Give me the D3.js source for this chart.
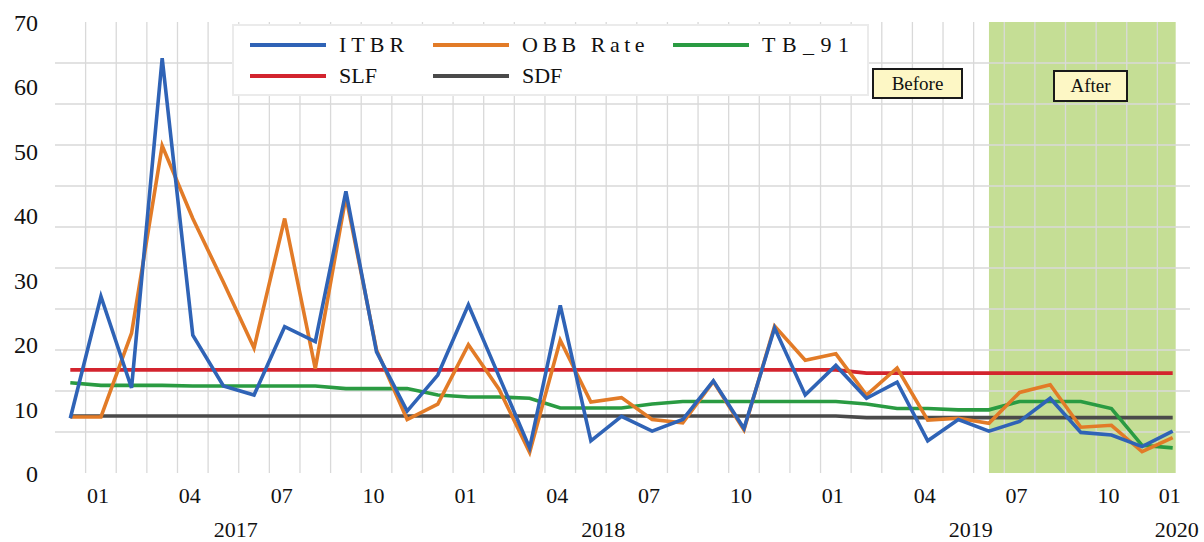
<!DOCTYPE html>
<html>
<head>
<meta charset="utf-8">
<script src="https://cdn.jsdelivr.net/npm/d3@7"></script>
<style>
html,body{margin:0;padding:0;background:#fff;}
svg{display:block;}
</style>
</head>
<body>
<svg id="chart" width="1204" height="542" font-family="'Liberation Serif', 'DejaVu Serif', serif"></svg>
<script>
const categories = ["2016-12","2017-01","2017-02","2017-03","2017-04","2017-05","2017-06","2017-07","2017-08","2017-09","2017-10","2017-11",
  "2017-12","2018-01","2018-02","2018-03","2018-04","2018-05","2018-06","2018-07","2018-08","2018-09","2018-10","2018-11",
  "2018-12","2019-01","2019-02","2019-03","2019-04","2019-05","2019-06","2019-07","2019-08","2019-09","2019-10","2019-11","2019-12"];

const itbr = [8.5,27.4,13.2,64.4,21.4,13.5,12.1,22.7,20.4,43.7,18.8,9.6,
  15.2,26.1,15.0,3.9,26.0,5.0,8.8,6.5,8.3,14.3,6.9,22.5,
  12.1,16.7,11.6,14.1,5.0,8.3,6.5,8.0,11.6,6.3,5.9,4.1,6.5];
const obbRate = [8.7,8.7,21.7,50.8,39.5,29.6,19.4,39.5,16.2,42.9,19.1,8.3,
  10.7,19.9,13.0,3.2,20.6,11.0,11.7,8.3,7.8,14.2,6.7,22.8,
  17.5,18.5,12.1,16.3,8.2,8.5,7.7,12.5,13.7,7.1,7.4,3.3,5.5];
const tb91 = [14.0,13.6,13.6,13.6,13.5,13.5,13.5,13.5,13.5,13.1,13.1,13.1,
  12.1,11.8,11.8,11.6,10.1,10.1,10.1,10.7,11.1,11.1,11.1,11.1,
  11.1,11.1,10.7,10.0,10.0,9.8,9.8,11.1,11.1,11.1,10.0,4.3,3.9];
const slf = [16.0,16.0,16.0,16.0,16.0,16.0,16.0,16.0,16.0,16.0,16.0,16.0,
  16.0,16.0,16.0,16.0,16.0,16.0,16.0,16.0,16.0,16.0,16.0,16.0,
  16.0,16.0,15.5,15.5,15.5,15.5,15.5,15.5,15.5,15.5,15.5,15.5,15.5];
const sdf = [8.85,8.85,8.85,8.85,8.85,8.85,8.85,8.85,8.85,8.85,8.85,8.85,
  8.85,8.85,8.85,8.85,8.85,8.85,8.85,8.85,8.85,8.85,8.85,8.85,
  8.85,8.85,8.6,8.6,8.6,8.6,8.6,8.6,8.6,8.6,8.6,8.6,8.6];

const yTickValues = [0,10,20,30,40,50,60,70];
const monthTickCats = ["2017-01","2017-04","2017-07","2017-10","2018-01","2018-04","2018-07","2018-10","2019-01","2019-04","2019-07","2019-10","2019-12"];
const monthTickLabels = ["01","04","07","10","01","04","07","10","01","04","07","10","01"];
const yearLabels = ["2017","2018","2019","2020"];
const yearFirstCat = ["2016-12","2017-12","2018-12","2019-12"];
const yearLastCat  = ["2017-11","2018-11","2019-11","2019-12"];
const afterStart = "2019-06";
const afterEnd = "2019-12";

const seriesNames = ["ITBR","OBB Rate","TB_91","SLF","SDF"];
const seriesData = [itbr, obbRate, tb91, slf, sdf];
const seriesColors = ["#2F63B6","#E27B27","#2A9B42","#D3242E","#4A4A4A"];

const svg = d3.select("#chart");
const pLeft = 55, pRight = 1188, pTop = 22, pBottom = 473;
const serif = "'Liberation Serif', 'DejaVu Serif', serif";

const xBand = d3.scaleBand().domain(categories).range([pLeft, pRight]).paddingInner(0).paddingOuter(0);
const xc = c => xBand(c) + xBand.bandwidth()/2;
const y = d3.scaleLinear().domain([0,70]).range([pBottom, pTop]);

// After shading
svg.append("rect")
  .attr("x", xc(afterStart)).attr("y", pTop)
  .attr("width", xc(afterEnd) + 3 - xc(afterStart)).attr("height", pBottom - pTop)
  .attr("fill", "#C5DE95");

// gridlines
const grid = svg.append("g");
const hGridVals = d3.range(1, 11).map(k => k * 70 / 11);
grid.selectAll("line.h").data(hGridVals).enter().append("line")
  .attr("x1", pLeft).attr("x2", pRight + 2)
  .attr("y1", d => y(d)).attr("y2", d => y(d))
  .attr("stroke", "#D9D9D9").attr("stroke-width", 1.3);
grid.selectAll("line.v").data(categories.slice(1)).enter().append("line")
  .attr("x1", d => xBand(d)).attr("x2", d => xBand(d))
  .attr("y1", pTop).attr("y2", pBottom)
  .attr("stroke", "#D9D9D9").attr("stroke-width", 1.3);

// legend box (under lines)
const lg = svg.append("g");
lg.append("rect").attr("x", 233).attr("y", 25).attr("width", 635).attr("height", 70)
  .attr("fill", "#fff").attr("stroke", "#EBEBEB").attr("stroke-width", 2);
const legendPos = [[250,45],[433,45],[673,45],[250,76],[433,76]];
const legendSpacing = [5,4.5,6.5,0,0];
seriesNames.forEach((n,i) => {
  const [lx, ly] = legendPos[i];
  lg.append("line").attr("x1", lx).attr("x2", lx+76).attr("y1", ly).attr("y2", ly)
    .attr("stroke", seriesColors[i]).attr("stroke-width", 4);
  lg.append("text").attr("x", lx+89).attr("y", ly+7).attr("font-size", 22)
    .attr("font-family", serif).attr("fill", "#111")
    .attr("letter-spacing", legendSpacing[i]).text(n);
});

// lines
const line = d3.line().x((d,i) => xc(categories[i])).y(d => y(d));
const drawOrder = [4,3,2,1,0];
drawOrder.forEach(i => {
  svg.append("path").datum(seriesData[i])
    .attr("d", line)
    .attr("fill", "none")
    .attr("stroke", seriesColors[i])
    .attr("stroke-width", 3.6)
    .attr("stroke-linejoin", "miter");
});

// y labels
svg.selectAll("text.ylab").data(yTickValues).enter().append("text")
  .attr("x", 38).attr("y", d => y(d) + 9)
  .attr("text-anchor", "end").attr("font-size", 24)
  .attr("font-family", serif).attr("fill", "#111")
  .text(d => d);

// month labels
svg.selectAll("text.mlab").data(monthTickCats).enter().append("text")
  .attr("x", d => xc(d) - 3).attr("y", 503)
  .attr("text-anchor", "middle").attr("font-size", 22)
  .attr("font-family", serif).attr("fill", "#111")
  .text((d,i) => monthTickLabels[i]);

// year labels
svg.selectAll("text.ylab2").data(yearLabels).enter().append("text")
  .attr("x", (d,i) => (xc(yearFirstCat[i]) + xc(yearLastCat[i]))/2 + (i === 3 ? 4 : -3))
  .attr("y", 537)
  .attr("text-anchor", "middle").attr("font-size", 22)
  .attr("font-family", serif).attr("fill", "#111")
  .text(d => d);

// annotation boxes
function note(cx, cy, w, h, txt){
  svg.append("rect").attr("x", cx - w/2).attr("y", cy - h/2).attr("width", w).attr("height", h)
    .attr("fill", "#FDF7C5").attr("stroke", "#1a1a1a").attr("stroke-width", 2);
  svg.append("text").attr("x", cx).attr("y", cy + 6).attr("text-anchor", "middle")
    .attr("font-size", 19).attr("font-family", serif).attr("fill", "#111").text(txt);
}
note(917.5, 83.5, 89, 29, "Before");
note(1090.5, 86, 73, 30, "After");
</script>
</body>
</html>
